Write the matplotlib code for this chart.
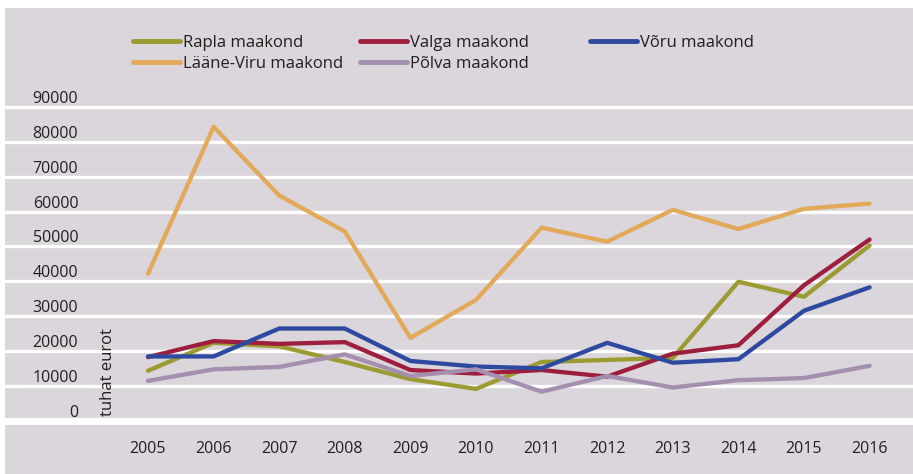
import matplotlib
matplotlib.use('Agg')
import matplotlib.pyplot as plt
from matplotlib.patches import Rectangle

plt.rcParams['font.family'] = ['Open Sans', 'DejaVu Sans']

years = list(range(2005, 2017))
rapla = [14400, 22400, 21400, 16900, 12000, 9200, 16900, 17500, 18100, 39900, 35600, 50300]
valga = [18300, 22900, 22100, 22600, 14600, 13600, 14600, 12700, 19300, 21700, 38900, 52000]
voru = [18500, 18500, 26500, 26500, 17200, 15600, 15100, 22400, 16700, 17700, 31600, 38300]
laane_viru = [42200, 84300, 64600, 54300, 23800, 34700, 55400, 51400, 60500, 55000, 60800, 62300]
polva = [11500, 14800, 15500, 19100, 12900, 14800, 8400, 12900, 9600, 11700, 12300, 15800]

names = ['Rapla maakond', 'Valga maakond', 'Võru maakond', 'Lääne-Viru maakond', 'Põlva maakond']
colors = ['#9b9b32', '#9e1e3e', '#2e4aa0', '#e2aa58', '#a48fae']
series = [rapla, valga, voru, laane_viru, polva]

W, H = 913, 474
bg = '#dbd5dc'
fig = plt.figure(figsize=(W / 100, H / 100), dpi=100)
fig.patch.set_facecolor('white')
fig.patches.append(Rectangle((5 / W, 0), 1, 1 - 8 / H, transform=fig.transFigure,
                             facecolor=bg, edgecolor='none', zorder=-10))

# pixel layout: y=0 at 421px, 10000 per 34.9px; 2005 at x=148, 65.6px per year
y0px, ppu = 421, 34.9 / 10000
ylo, yhi = -3000, 100000
bot_px = y0px - ylo * ppu
top_px = y0px - yhi * ppu
ax = fig.add_axes([5 / W, 1 - bot_px / H, 908 / W, (bot_px - top_px) / H])
ax.set_facecolor(bg)
ax.patch.set_alpha(0)
ax.set_xlim(2005 - 143 / 65.6, 2016 + (913 - 869.6) / 65.6)
ax.set_ylim(ylo, yhi)
for s in ax.spines.values():
    s.set_visible(False)

ticks = list(range(0, 90001, 10000))
for t in ticks:
    ax.axhline(t, color='white', lw=5 if t == 0 else 2.4, zorder=1)

lines = []
for vals, c, n in zip(series, colors, names):
    ln, = ax.plot(years, vals, color=c, lw=3.1, label=n, zorder=3, solid_capstyle='round')
    lines.append(ln)

ax.set_yticks(ticks)
ax.set_yticklabels([str(t) for t in ticks])
ax.tick_params(axis='y', length=0, pad=-73.3 * 0.72, labelsize=11.5, labelcolor='#231f20')
for lab in ax.get_yticklabels():
    lab.set_va('bottom')
    lab.set_ha('right')
ax.set_xticks(years)
ax.set_xticklabels([str(y) for y in years])
ax.tick_params(axis='x', length=0, pad=7, labelsize=11.5, labelcolor='#231f20')

ax.text(2005 - 40.5 / 65.6, 1500, 'tuhat eurot', rotation=90, ha='center', va='bottom',
        fontsize=12, color='#231f20')

cols = [[0, 3], [1, 4], [2]]
xs = [133, 360, 590]
legs = []
for idx, xp in zip(cols, xs):
    leg = ax.legend([lines[i] for i in idx], [names[i] for i in idx],
                    loc='upper left', bbox_to_anchor=(xp / W, 1 - 35 / H),
                    bbox_transform=fig.transFigure, frameon=False, fontsize=12,
                    handlelength=2.8, handletextpad=0.2, labelspacing=0.3,
                    borderpad=0, borderaxespad=0)
    for h in leg.get_lines():
        h.set_linewidth(3.5)
    for t in leg.get_texts():
        t.set_color('#231f20')
    legs.append(leg)
ax.legend_ = None
for leg in legs:
    ax.add_artist(leg)

fig.savefig('out.png', dpi=100, facecolor=fig.get_facecolor())
